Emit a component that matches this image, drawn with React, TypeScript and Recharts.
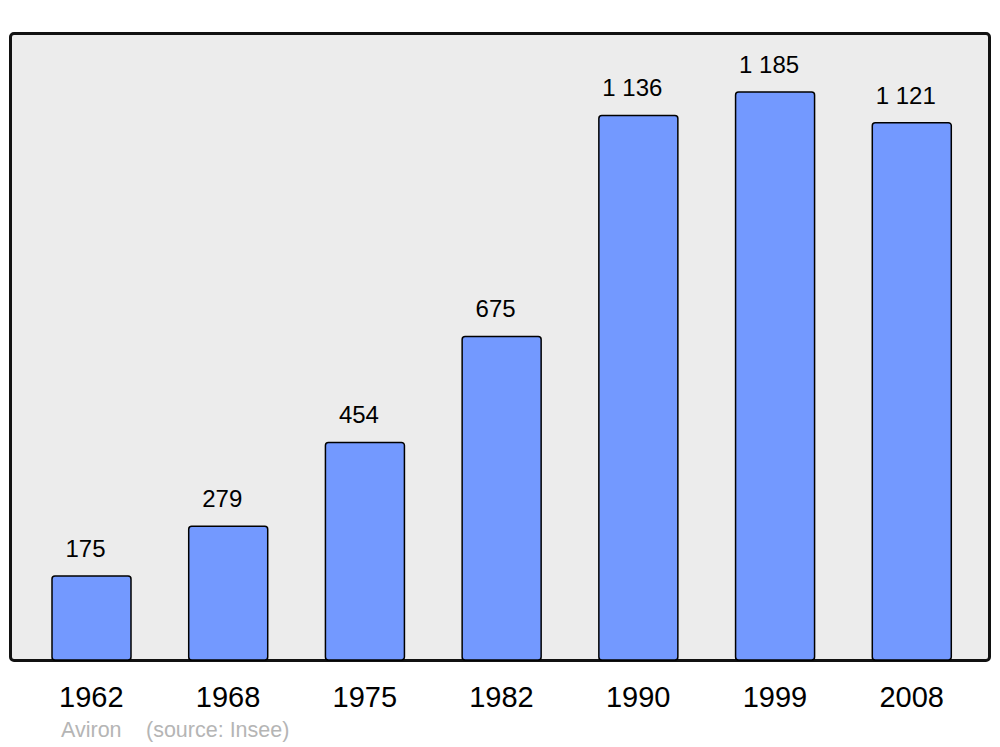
import React from 'react';
import { BarChart, Bar, XAxis, YAxis, LabelList } from 'recharts';

const years = ['1962', '1968', '1975', '1982', '1990', '1999', '2008'];
const population = [175, 279, 454, 675, 1136, 1185, 1121];
const footerName = 'Aviron';
const footerSource = '(source: Insee)';

const data = years.map((y, i) => ({ year: y, value: population[i] }));

const fmt = (v: any) => {
  const s = String(v);
  return s.replace(/\B(?=(\d{3})+(?!\d))/g, ' ');
};

const FONT = '"Liberation Sans", Arial, sans-serif';

export default function App() {
  return (
    <div style={{ position: 'absolute', left: 0, top: 0, width: 1000, height: 747, background: '#fff', fontFamily: FONT }}>
      <div
        style={{
          position: 'absolute',
          left: 9,
          top: 32,
          width: 982,
          height: 630,
          boxSizing: 'border-box',
          border: '3px solid #111',
          borderRadius: 5,
          background: '#ececec',
        }}
      />
      <div style={{ position: 'absolute', left: 0, top: 0 }}>
        <BarChart width={1000} height={747} data={data} margin={{ top: 34, right: 11, bottom: 27, left: 11 }}>
          <YAxis hide domain={[0, 1306]} />
          <XAxis
            dataKey="year"
            axisLine={false}
            tickLine={false}
            height={60}
            padding={{ left: 12, right: 9 }}
            tickMargin={20}
            tick={{ fontSize: 29, fill: '#000', fontFamily: FONT }}
          />
          <Bar dataKey="value" fill="#7399ff" stroke="#000" strokeWidth={1.5} barSize={79} radius={3} isAnimationActive={false}>
            <LabelList dataKey="value" position="top" offset={19} dx={-6} formatter={fmt} style={{ fontSize: 24, fill: '#000', fontFamily: FONT }} />
          </Bar>
        </BarChart>
      </div>
      <div style={{ position: 'absolute', left: 61, top: 718, fontSize: 21.5, color: '#b5b5b5', fontFamily: FONT, whiteSpace: 'nowrap' }}>
        {footerName}
      </div>
      <div style={{ position: 'absolute', left: 146, top: 718, fontSize: 21.5, color: '#b5b5b5', fontFamily: FONT, whiteSpace: 'nowrap' }}>
        {footerSource}
      </div>
    </div>
  );
}
